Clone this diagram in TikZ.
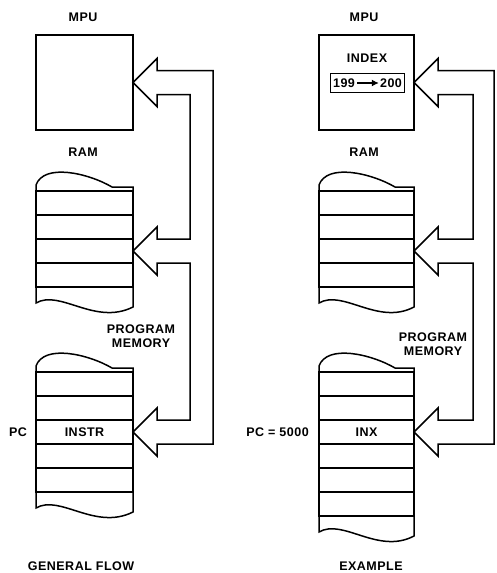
\documentclass[tikz,border=0pt]{standalone}
\usepackage{fontspec}
\setmainfont{Liberation Sans}[LetterSpace=4]
\usetikzlibrary{calc,fit,arrows.meta}
\tikzset{
  ln/.style={line width=1.5pt},
  txt/.style={font=\bfseries\fontsize{12.5}{14}\selectfont},
  lbl/.style={txt, inner sep=0pt, align=center},
  memrow/.style={draw, ln, txt, minimum width=#1, minimum height=24pt, inner sep=0pt, outer sep=0pt},
  boxnode/.style={draw, ln, minimum width=#1, minimum height=95pt, inner sep=0pt, outer sep=0pt},
}
\newcommand{\topwave}[2]{\begin{scope}[shift={(#1)}]\draw[ln] (0,0) -- (0,-6) .. controls (8,-28) and (52,-18) .. (76,-4) -- (#2,-4) -- (#2,0);\end{scope}}
\newcommand{\botwave}[2]{\begin{scope}[shift={(#1)}]\draw[ln] (0,0) -- (0,16) .. controls (24,2) and (59,39) .. (#2,20) -- (#2,0);\end{scope}}
\newcommand{\flowloop}[5]{\draw[ln,line join=miter]
  ($(#1)+(24,-12)$) -- ($(#1)+(#5,-12)$) -- ($(#3)+(#5,12)$) -- ($(#3)+(24,12)$) -- ($(#3)+(24,24)$) -- (#3) -- ($(#3)+(24,-24)$) -- ($(#3)+(24,-12)$)
  -- ($(#3)+(#4,-12)$) -- ($(#2)+(#4,12)$) -- ($(#2)+(24,12)$) -- ($(#2)+(24,24)$) -- (#2) -- ($(#2)+(24,-24)$) -- ($(#2)+(24,-12)$)
  -- ($(#2)+(#4,-12)$) -- ($(#1)+(#4,12)$) -- ($(#1)+(24,12)$) -- ($(#1)+(24,24)$) -- (#1) -- ($(#1)+(24,-24)$) -- cycle;}
\begin{document}
\begin{tikzpicture}[x=1pt,y=-1pt]
\useasboundingbox (0,0) rectangle (496,573);
% ---------------- left: general flow ----------------
\node[lbl] (mpuLt) at (83,17) {MPU};
\node[boxnode=97pt] (mpuL) at (84.5,82.5) {};
\node[lbl] (ramLt) at (83,152) {RAM};
\foreach \i in {1,...,4} \node[memrow=97pt] (ramL\i) at (84.5,{179+24*\i}) {};
\topwave{ramL1.north west}{97}
\botwave{ramL4.south west}{97}
\node[lbl] (pmLt) at (141,336) {PROGRAM\\MEMORY};
\foreach \i in {1,2,4,5} \node[memrow=97pt] (pmL\i) at (84.5,{360+24*\i}) {};
\node[memrow=97pt] (instrL) at (84.5,432) {INSTR};
\topwave{pmL1.north west}{97}
\botwave{pmL5.south west}{97}
\node[lbl] (pcL) at (18,432) {PC};
\node[lbl] (capL) at (81,566) {GENERAL FLOW};
\flowloop{mpuL.east}{ramL3.east}{instrL.east}{57}{80}
% ---------------- right: example ----------------
\node[lbl] (mpuRt) at (364,17) {MPU};
\node[boxnode=95pt] (mpuR) at (366.5,82.5) {};
\node[lbl] (idx) at (367,58) {INDEX};
\node[lbl] (n199) at (344,83) {199};
\node[lbl] (n200) at (391,83) {200};
\draw[line width=1.6pt,-{Latex[length=7pt,width=7pt]}] ($(n199.east)+(2,0)$) -- ($(n200.west)+(-1,0)$);
\node[draw, ln, fit=(n199)(n200), inner xsep=2.5pt, inner ysep=5pt] (idxbox) {};
\node[lbl] (ramRt) at (364,152) {RAM};
\foreach \i in {1,...,4} \node[memrow=95pt] (ramR\i) at (366.5,{179+24*\i}) {};
\topwave{ramR1.north west}{95}
\botwave{ramR4.south west}{95}
\node[lbl] (pmRt) at (433,344) {PROGRAM\\MEMORY};
\foreach \i in {1,2,4,5,6} \node[memrow=95pt] (pmR\i) at (366.5,{360+24*\i}) {};
\node[memrow=95pt] (inxR) at (366.5,432) {INX};
\topwave{pmR1.north west}{95}
\botwave{pmR6.south west}{95}
\node[lbl, anchor=east] (pcR) at (309,432) {PC = 5000};
\node[lbl] (capR) at (371,566) {EXAMPLE};
\flowloop{mpuR.east}{ramR3.east}{inxR.east}{59}{80}
\end{tikzpicture}
\end{document}
